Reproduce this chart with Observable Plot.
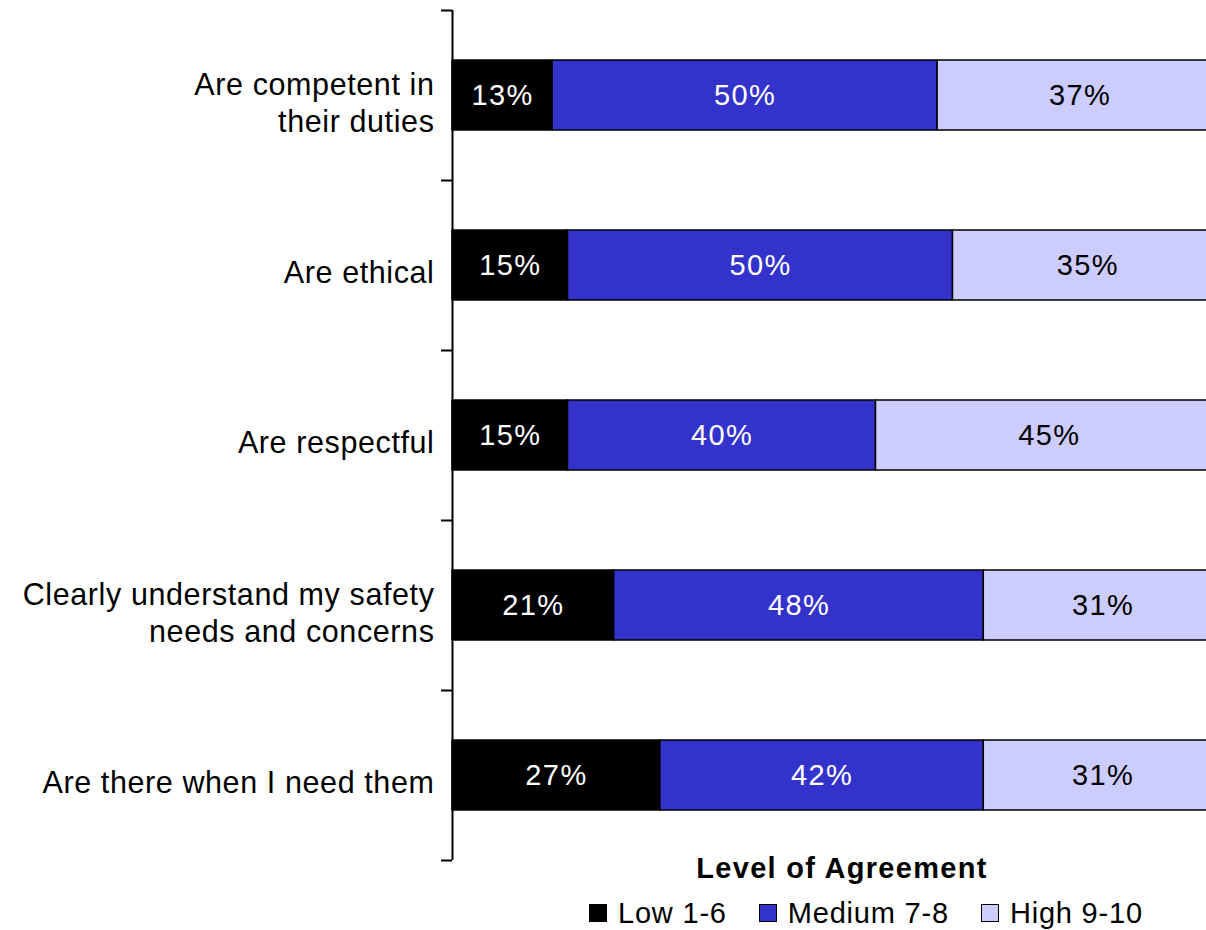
<!DOCTYPE html>
<html><head><meta charset="utf-8">
<script src="https://cdn.jsdelivr.net/npm/d3@7"></script>
<script src="https://cdn.jsdelivr.net/npm/@observablehq/plot@0.6"></script>
<style>
html,body{margin:0;padding:0;background:#fff;overflow:hidden;width:1206px;height:930px}
#wrap{position:relative;width:1206px;height:930px;font-family:"Liberation Sans",Arial,sans-serif;color:#000}
#chart svg{display:block}
#chart g[font-size="30.5"]{letter-spacing:0.6px}
#chart g[font-size="29"]{letter-spacing:1.4px}
#ltitle{position:absolute;top:850px;left:592px;width:500px;text-align:center;font-weight:bold;font-size:29px;letter-spacing:1.3px;line-height:36px}
#legend{position:absolute;top:896px;left:589px;display:flex;align-items:center;font-size:29px;letter-spacing:0.8px;line-height:34px;white-space:nowrap}
.item{display:flex;align-items:center;margin-right:32px}
.sw{width:18px;height:18px;border:1.5px solid #000;margin-right:11px;box-sizing:border-box}
</style></head>
<body><div id="wrap"><div id="chart"></div><div id="ltitle">Level of Agreement</div><div id="legend"></div></div>
<script>
const categories = ["Are competent in\ntheir duties", "Are ethical", "Are respectful", "Clearly understand my safety\nneeds and concerns", "Are there when I need them"];
const levels = ["Low 1-6", "Medium 7-8", "High 9-10"];
const low = [13, 15, 15, 21, 27];
const medium = [50, 50, 40, 48, 42];
const high = [37, 35, 45, 31, 31];
const colors = ["#000000", "#3333CC", "#CCCCFF"];
const textColors = ["#ffffff", "#ffffff", "#000000"];
const series = [low, medium, high];

const data = categories.flatMap((c, i) => levels.map((l, j) => ({category: c, level: l, li: j, value: series[j][i]})));

const chart = Plot.plot({
  width: 1206, height: 862,
  marginTop: 10, marginBottom: 2, marginLeft: 452, marginRight: -16,
  x: {domain: [0, 100], axis: null},
  y: {domain: categories, paddingInner: 0.588, paddingOuter: 0.294, axis: null},
  color: {type: "identity"},
  style: {fontFamily: "Liberation Sans, Arial, sans-serif", overflow: "hidden", background: "#fff"},
  marks: [
    Plot.barX(data, {x: "value", y: "category", fill: d => colors[d.li], stroke: "#000", strokeWidth: 1.5}),
    Plot.text(data, Plot.stackX({x: "value", y: "category", text: d => d.value + "%", fill: d => textColors[d.li], fontSize: 29})),
    Plot.text(categories, {x: 0, y: d => d, text: d => d, textAnchor: "end", dx: -18, dy: 6, fontSize: 30.5, lineHeight: 1.21, fill: "#000"}),
    Plot.ruleX([0], {stroke: "#000", strokeWidth: 2}),
    Plot.axisY(categories, {tickSize: 11, tickFormat: () => "", label: null, dy: -85, strokeWidth: 2}),
    Plot.axisY([categories[categories.length - 1]], {tickSize: 11, tickFormat: () => "", label: null, dy: 85, strokeWidth: 2})
  ]
});
document.getElementById("chart").appendChild(chart);

const legend = document.getElementById("legend");
levels.forEach((l, j) => {
  const it = document.createElement("div");
  it.className = "item";
  const sw = document.createElement("span");
  sw.className = "sw";
  sw.style.background = colors[j];
  const t = document.createElement("span");
  t.textContent = l;
  it.appendChild(sw); it.appendChild(t);
  legend.appendChild(it);
});
</script>
</body></html>
